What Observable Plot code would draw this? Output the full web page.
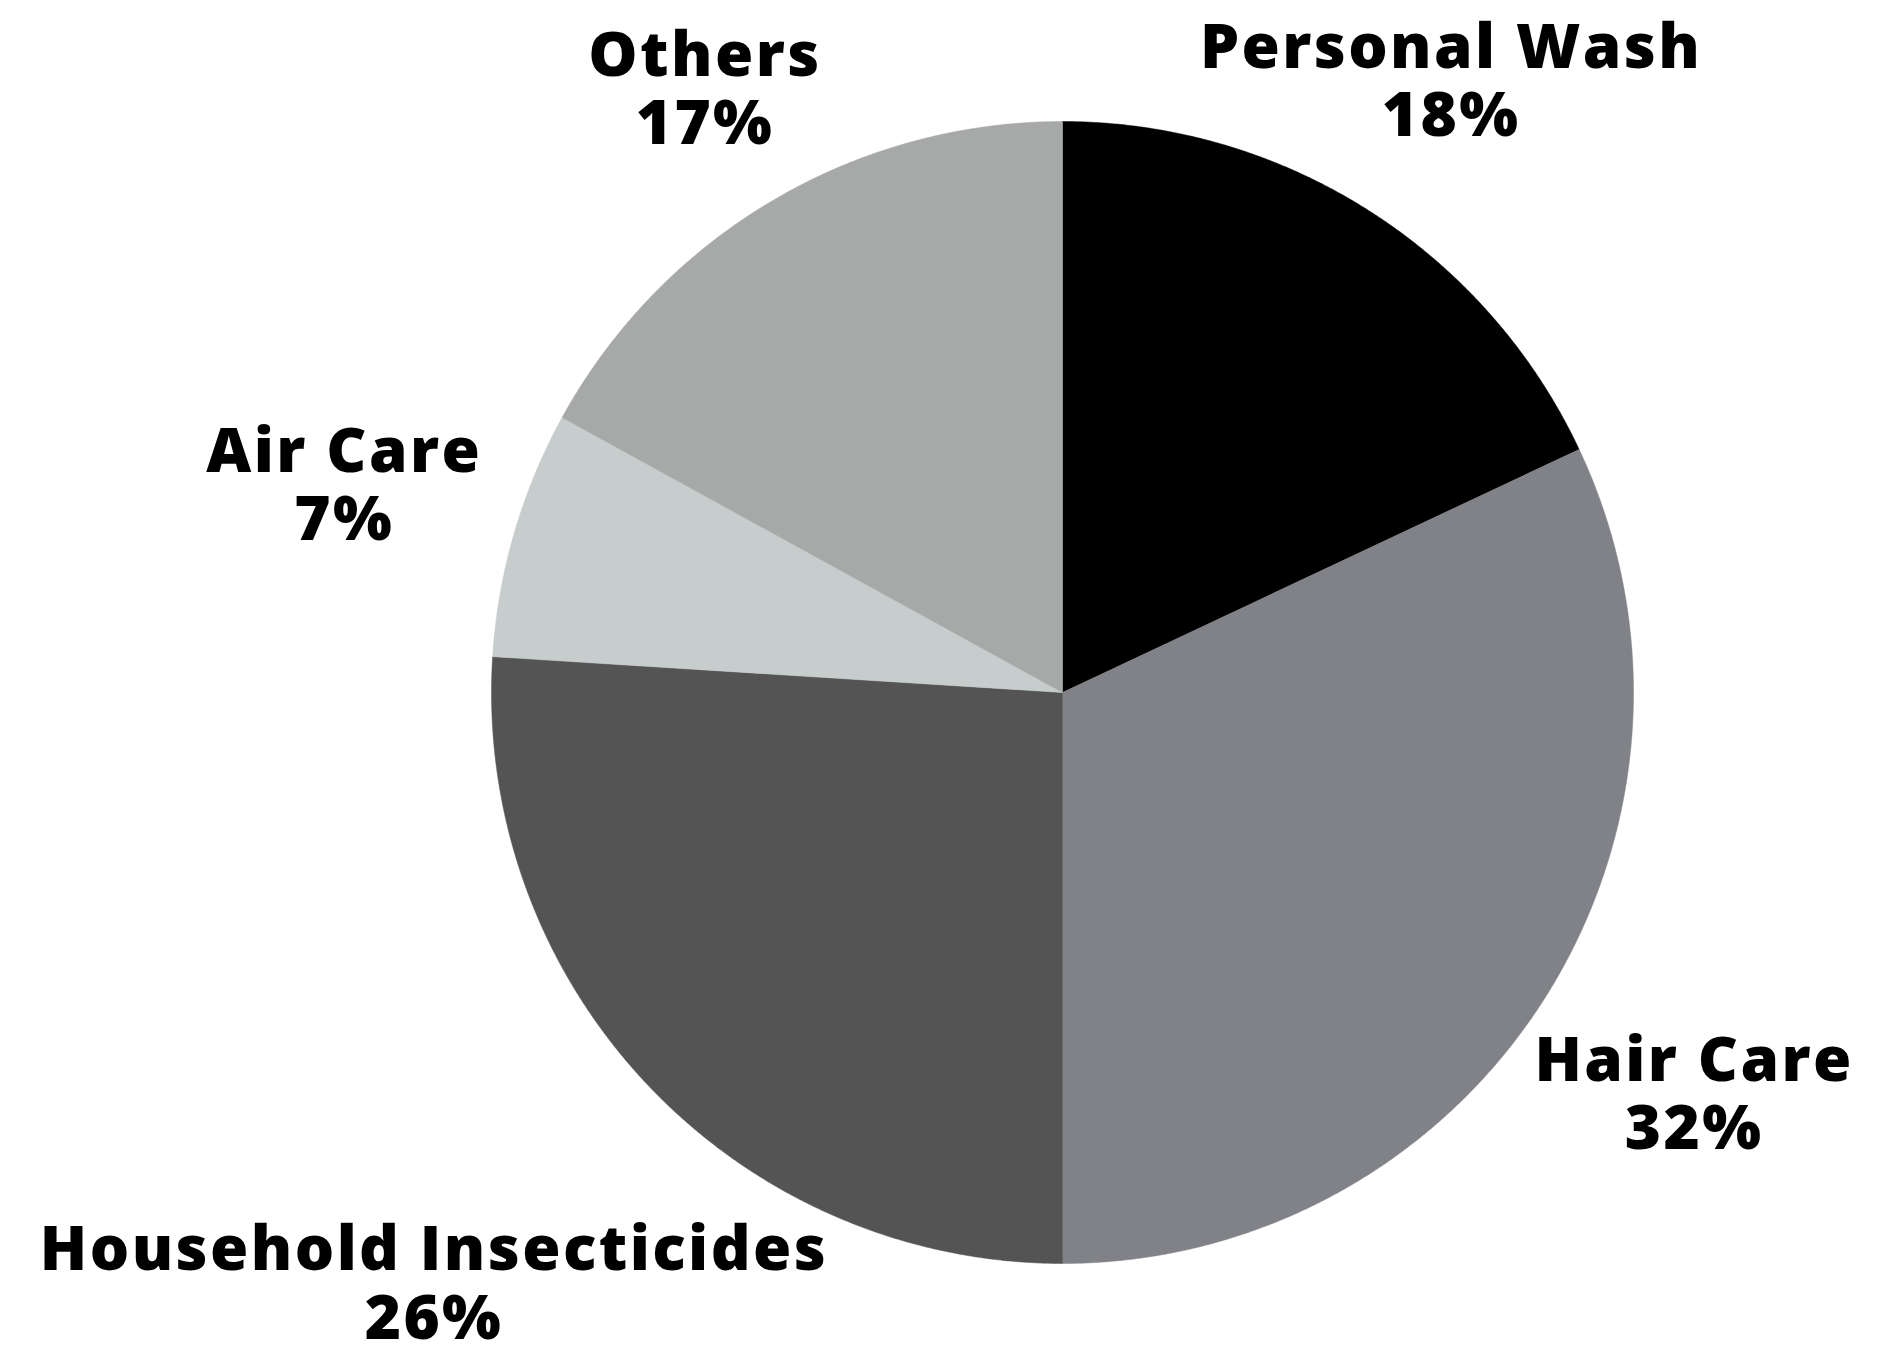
<!DOCTYPE html>
<html>
<head>
<meta charset="utf-8">
<script src="https://cdn.jsdelivr.net/npm/d3@7"></script>
<script src="https://cdn.jsdelivr.net/npm/@observablehq/plot@0.6"></script>
<style>
  html, body { margin: 0; padding: 0; background: #fff; }
  #chart svg { display: block; }
  #chart text { letter-spacing: 2.4px; }
</style>
</head>
<body>
<div id="chart"></div>
<script>
// Data
const categories = ["Personal Wash", "Hair Care", "Household Insecticides", "Air Care", "Others"];
const shares = [18, 32, 26, 7, 17];
const colors = ["#000000", "#818287", "#545454", "#c7cccc", "#a6a9a8"];

// Layout (label distance from centre, in radii)
const labelRadius = [1.27, 1.31, 1.51, 1.31, 1.23];

const W = 1890, H = 1346;
const cx = 1062, cy = 692, R = 571;

const total = d3.sum(shares);
const pieRows = [];
const labelRows = [];
let acc = 0;
categories.forEach((c, i) => {
  const a0 = acc / total * 2 * Math.PI;
  acc += shares[i];
  const a1 = acc / total * 2 * Math.PI;
  pieRows.push({cat: c, x: 0, y: 0});
  const n = Math.max(2, Math.ceil((a1 - a0) / (Math.PI / 720)));
  for (let k = 0; k <= n; k++) {
    const a = a0 + (a1 - a0) * k / n;
    pieRows.push({cat: c, x: Math.sin(a), y: Math.cos(a)});
  }
  pieRows.push({cat: c, x: 0, y: 0});
  const am = (a0 + a1) / 2;
  labelRows.push({
    cat: c,
    x: labelRadius[i] * Math.sin(am),
    y: labelRadius[i] * Math.cos(am),
    text: `${c}\n${shares[i]}%`
  });
});

const chart = Plot.plot({
  width: W,
  height: H,
  margin: 0,
  x: {domain: [-cx / R, (W - cx) / R], range: [0, W], axis: null},
  y: {domain: [-(H - cy) / R, cy / R], range: [H, 0], axis: null},
  color: {domain: categories, range: colors},
  style: {background: "#fff"},
  marks: [
    Plot.line(pieRows, {x: "x", y: "y", z: "cat", fill: "cat", stroke: "cat", strokeWidth: 0.5, curve: "linear"}),
    Plot.text(labelRows, {
      x: "x", y: "y", text: "text",
      fontSize: 62, fontWeight: 800, lineHeight: 1.1,
      fontFamily: "'Open Sans', sans-serif",
      fill: "#000", textAnchor: "middle"
    })
  ]
});
document.getElementById("chart").appendChild(chart);
</script>
</body>
</html>
